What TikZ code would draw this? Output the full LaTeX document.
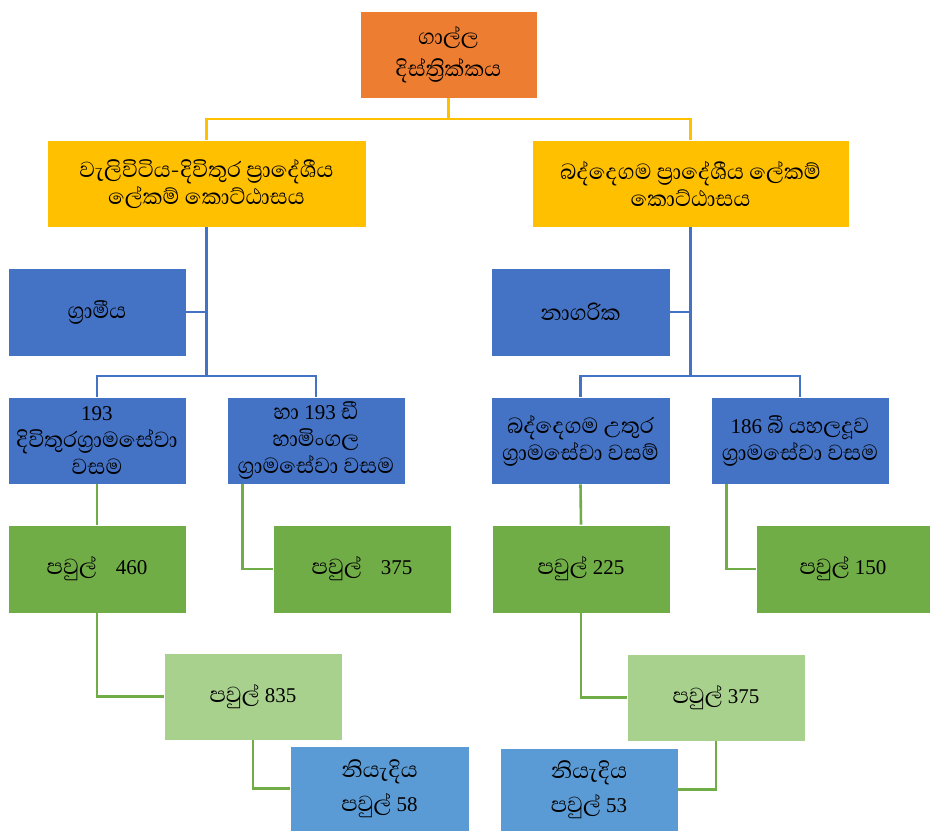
\documentclass[tikz,border=0pt]{standalone}
\usepackage{fontspec}
\setmainfont{Liberation Serif}
\newfontfamily\sinf[Script=Sinhala,Scale=1.33]{Abhaya Libre}
\newcommand\sn[1]{{\sinf #1}}
\definecolor{corange}{HTML}{ED7D31}
\definecolor{cyellow}{HTML}{FFC000}
\definecolor{cblue}{HTML}{4472C4}
\definecolor{cgreen}{HTML}{70AD47}
\definecolor{clgreen}{HTML}{A9D18E}
\definecolor{clblue}{HTML}{5B9BD5}
\tikzset{
  bx/.style={draw=white, line width=0.6pt, align=center, inner sep=2pt,
    font=\fontsize{21}{27}\selectfont, text=black},
  sz/.style n args={2}{minimum width=#1pt, minimum height=#2pt},
  ylink/.style={draw=cyellow, line width=2.6pt},
  blink/.style={draw=cblue, line width=2.6pt},
  glink/.style={draw=cgreen, line width=2.6pt},
}
\begin{document}
\begin{tikzpicture}[x=1pt,y=-1pt]
\useasboundingbox (0,0) rectangle (930,831);
% level 0
\node[bx, fill=corange, sz={177}{87}] (top) at (448.5,54.5) {\sn{ගාල්ල}\\[5pt]\sn{දිස්ත්‍රික්කය}};
% level 1
\node[bx, fill=cyellow, sz={319}{87}] (L) at (206.5,183.5) {\sn{වැලිවිටිය-දිවිතුර ප්‍රාදේශීය}\\\sn{ලේකම් කොට්ඨාසය}};
\node[bx, fill=cyellow, sz={317}{87}] (R) at (690.5,183.5) {\sn{බද්දෙගම ප්‍රාදේශීය ලේකම්}\\\sn{කොට්ඨාසය}};
% level 2
\node[bx, fill=cblue, sz={178}{88}] (gram) at (97,312) {\sn{ග්‍රාමීය}};
\node[bx, fill=cblue, sz={179}{88}] (nag) at (580.5,312) {\sn{නාගරික}};
% level 3
\node[bx, fill=cblue, sz={178}{87}] (b5) at (97,440.5) {193\\\sn{දිවිතුරග්‍රාමසේවා}\\\sn{වසම}};
\node[bx, fill=cblue, sz={178}{87}] (b6) at (316,440.5) {\sn{හා} 193 \sn{ඩී}\\\sn{හාමිංගල}\\\sn{ග්‍රාමසේවා වසම}};
\node[bx, fill=cblue, sz={179}{87}] (b8) at (580.5,440.5) {\sn{බද්දෙගම උතුර}\\\sn{ග්‍රාමසේවා වසම්}};
\node[bx, fill=cblue, sz={178}{87}] (b9) at (800,440.5) {186 \sn{බී යහලදූව}\\\sn{ග්‍රාමසේවා වසම}};
% level 4
\node[bx, fill=cgreen, sz={178}{88}] (p460) at (97,569) {\sn{පවුල්}\hspace{0.9em}460};
\node[bx, fill=cgreen, sz={178}{88}] (p375a) at (362,569) {\sn{පවුල්}\hspace{0.9em}375};
\node[bx, fill=cgreen, sz={178}{88}] (p225) at (581,569) {\sn{පවුල්} 225};
\node[bx, fill=cgreen, sz={174}{88}] (p150) at (843,569) {\sn{පවුල්} 150};
% level 5
\node[bx, fill=clgreen, sz={178}{87}] (p835) at (253,696.5) {\sn{පවුල්} 835};
\node[bx, fill=clgreen, sz={178}{87}] (p375b) at (716,697.5) {\sn{පවුල්} 375};
% level 6
\node[bx, fill=clblue, sz={179}{85}] (n58) at (379.5,788.5) {\sn{නියැදිය}\\[7pt]\sn{පවුල්} 58};
\node[bx, fill=clblue, sz={178}{83}] (n53) at (589,789.5) {\sn{නියැදිය}\\[7pt]\sn{පවුල්} 53};
% connectors
\coordinate (jT) at (448.5,119);
\draw[ylink] (top.south) -- (jT);
\draw[ylink] (L.north) |- (jT) -| (R.north);
\coordinate (jL) at (206.5,376);
\coordinate (jR) at (690.5,376);
\draw[blink] (L.south) -- (jL);
\draw[blink] (R.south) -- (jR);
\draw[blink] (gram.east) -- (gram.east -| L.south);
\draw[blink] (nag.east) -- (nag.east -| R.south);
\draw[blink] (b5.north) |- (jL) -| (b6.north);
\draw[blink] (b8.north) |- (jR) -| (b9.north);
\draw[glink] (b5.south) -- (p460.north);
\draw[glink] ([xshift=16pt]b6.south west) |- (p375a.west);
\draw[glink] (b8.south) -- (p225.north);
\draw[glink] ([xshift=16pt]b9.south west) |- (p150.west);
\draw[glink] (p460.south) |- (p835.west);
\draw[glink] (p225.south) |- (p375b.west);
\draw[glink] (p835.south) |- (n58.west);
\draw[glink] (p375b.south) |- (n53.east);
\end{tikzpicture}
\end{document}
